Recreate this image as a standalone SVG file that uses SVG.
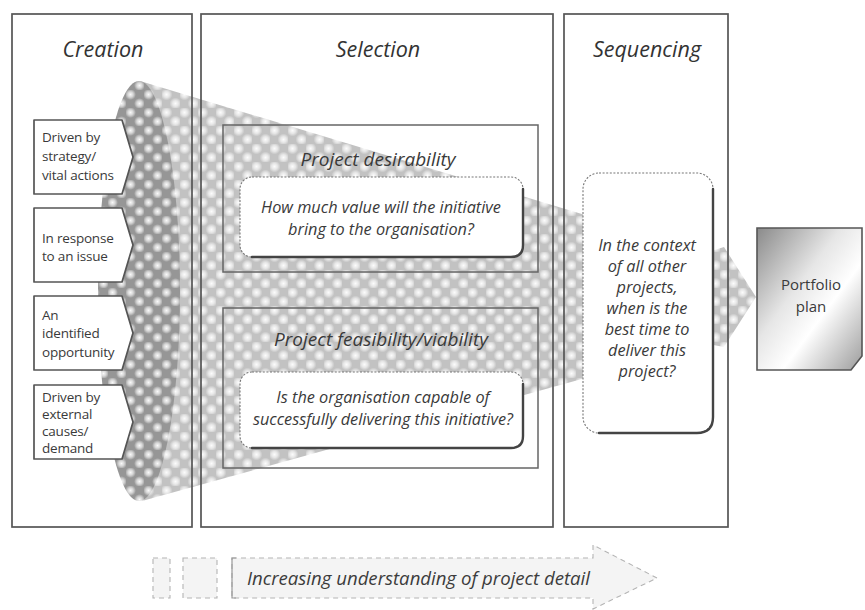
<svg xmlns="http://www.w3.org/2000/svg" width="865" height="610" viewBox="0 0 865 610">
  <defs>
    <style>
      .panel { fill: none; stroke: #555; stroke-width: 1.7; }
      .panel-bg { fill: #ffffff; stroke: none; }
      .heading { font-family: "Open Sans", "Noto Sans", sans-serif; font-style: italic; font-size: 21.5px; fill: #333; text-anchor: middle; }
      .tag { fill: #ffffff; stroke: #555; stroke-width: 1.7; stroke-linejoin: round; }
      .tag-text { font-family: "Open Sans", "Noto Sans", sans-serif; font-size: 13.5px; fill: #3a3a3a; letter-spacing: -0.2px; }
      .frame { fill: none; stroke: #666; stroke-width: 1.5; }
      .title { font-family: "Open Sans", "Noto Sans", sans-serif; font-style: italic; font-size: 19px; fill: #3a3a3a; text-anchor: middle; }
      .card { fill: #ffffff; stroke: #777; stroke-width: 1.1; stroke-dasharray: 2 1.6; }
      .card-edge { fill: none; stroke: #444; stroke-width: 2.4; stroke-linecap: round; }
      .q { font-family: "Open Sans", "Noto Sans", sans-serif; font-style: italic; font-size: 16.3px; fill: #3a3a3a; text-anchor: middle; }
      .plan-text { font-family: "Open Sans", "Noto Sans", sans-serif; font-size: 15px; fill: #3a3a3a; text-anchor: middle; }
      .faint { fill: #f4f4f4; stroke: #b4b4b4; stroke-width: 1.1; stroke-dasharray: 5 4; }
      .band-text { font-family: "Open Sans", "Noto Sans", sans-serif; font-style: italic; font-size: 18.6px; fill: #3c3c3c; }
    </style>
    <radialGradient id="dot">
      <stop offset="0" stop-color="#ffffff" stop-opacity="0.95"/>
      <stop offset="0.5" stop-color="#ffffff" stop-opacity="0.6"/>
      <stop offset="1" stop-color="#ffffff" stop-opacity="0"/>
    </radialGradient>
    <pattern id="halftone" width="18" height="18" patternUnits="userSpaceOnUse">
      <rect width="18" height="18" fill="#c2c2c2"/>
      <circle cx="4.5" cy="4.5" r="6" fill="url(#dot)"/>
      <circle cx="13.5" cy="13.5" r="6" fill="url(#dot)"/>
    </pattern>
    <pattern id="halftone-dark" width="18" height="18" patternUnits="userSpaceOnUse">
      <rect width="18" height="18" fill="#969696"/>
      <circle cx="4.5" cy="4.5" r="5.5" fill="url(#dot)"/>
      <circle cx="13.5" cy="13.5" r="5.5" fill="url(#dot)"/>
    </pattern>
    <linearGradient id="metal" x1="0" y1="0" x2="1" y2="1">
      <stop offset="0" stop-color="#8a8a8a"/>
      <stop offset="0.4" stop-color="#e6e6e6"/>
      <stop offset="0.62" stop-color="#ffffff"/>
      <stop offset="1" stop-color="#9c9c9c"/>
    </linearGradient>
  </defs>

  <!-- column backgrounds -->
  <g id="panel-backgrounds">
    <rect class="panel-bg" x="12" y="14" width="180" height="513"/>
    <rect class="panel-bg" x="201" y="14" width="352" height="513"/>
    <rect class="panel-bg" x="564" y="14" width="164" height="513"/>
  </g>

  <!-- halftone funnel running through the three stages -->
  <g id="funnel">
    <path d="M 140 81 L 708 252 L 724 247 L 756 297 L 724 347 L 708 344 L 142 501 Z" fill="url(#halftone)"/>
    <ellipse cx="139" cy="291" rx="41" ry="210" fill="url(#halftone-dark)"/>
  </g>

  <!-- column frames and headings -->
  <g id="creation">
    <rect class="panel" x="12" y="14" width="180" height="513"/>
    <text class="heading" x="103" y="57">Creation</text>
  </g>
  <g id="selection">
    <rect class="panel" x="201" y="14" width="352" height="513"/>
    <text class="heading" x="378" y="57">Selection</text>
  </g>
  <g id="sequencing">
    <rect class="panel" x="564" y="14" width="164" height="513"/>
    <text class="heading" x="647" y="57">Sequencing</text>
  </g>

  <!-- project sources -->
  <g id="source-strategy">
    <path class="tag" d="M 34 120 H 122 L 133 157 L 122 194 H 34 Z"/>
    <text class="tag-text" x="42" y="142">Driven by</text>
    <text class="tag-text" x="42" y="161">strategy/</text>
    <text class="tag-text" x="42" y="180">vital actions</text>
  </g>
  <g id="source-issue">
    <path class="tag" d="M 34 208 H 122 L 133 245 L 122 282 H 34 Z"/>
    <text class="tag-text" x="42" y="243">In response</text>
    <text class="tag-text" x="42" y="261">to an issue</text>
  </g>
  <g id="source-opportunity">
    <path class="tag" d="M 34 296 H 122 L 133 333 L 122 370 H 34 Z"/>
    <text class="tag-text" x="42" y="320">An</text>
    <text class="tag-text" x="42" y="338">identified</text>
    <text class="tag-text" x="42" y="357">opportunity</text>
  </g>
  <g id="source-external">
    <path class="tag" d="M 34 385 H 122 L 133 422 L 122 459 H 34 Z"/>
    <text class="tag-text" x="42" y="402">Driven by</text>
    <text class="tag-text" x="42" y="419">external</text>
    <text class="tag-text" x="42" y="436">causes/</text>
    <text class="tag-text" x="42" y="453">demand</text>
  </g>

  <!-- selection criteria -->
  <g id="desirability">
    <rect class="frame" x="223" y="125" width="315" height="147"/>
    <text class="title" x="378" y="166">Project desirability</text>
    <rect class="card" x="240" y="177" width="283" height="80" rx="12"/>
    <path class="card-edge" d="M 523 189 V 245 Q 523 257 511 257 H 252"/>
    <text class="q" x="381" y="213">How much value will the initiative</text>
    <text class="q" x="381" y="235">bring to the organisation?</text>
  </g>
  <g id="feasibility">
    <rect class="frame" x="223" y="308" width="315" height="160"/>
    <text class="title" x="381" y="346">Project feasibility/viability</text>
    <rect class="card" x="240" y="372" width="283" height="76" rx="12"/>
    <path class="card-edge" d="M 523 384 V 436 Q 523 448 511 448 H 252"/>
    <text class="q" x="383" y="403">Is the organisation capable of</text>
    <text class="q" x="383" y="425">successfully delivering this initiative?</text>
  </g>

  <!-- sequencing question -->
  <g id="timing">
    <rect class="card" x="583" y="173" width="130" height="260" rx="16"/>
    <path class="card-edge" d="M 713 189 V 417 Q 713 433 697 433 H 599"/>
    <text class="q" x="647" y="251">In the context</text>
    <text class="q" x="647" y="272">of all other</text>
    <text class="q" x="647" y="293">projects,</text>
    <text class="q" x="647" y="314">when is the</text>
    <text class="q" x="647" y="335">best time to</text>
    <text class="q" x="647" y="356">deliver this</text>
    <text class="q" x="647" y="377">project?</text>
  </g>

  <!-- outcome -->
  <g id="portfolio-plan">
    <path d="M 757 228 H 862 V 356 L 851 370 H 757 Z" fill="url(#metal)" stroke="#555" stroke-width="1.6"/>
    <text class="plan-text" x="811" y="290">Portfolio</text>
    <text class="plan-text" x="811" y="312">plan</text>
  </g>

  <!-- progress band along the bottom -->
  <g id="understanding">
    <rect class="faint" x="153" y="558" width="17" height="40" stroke-dasharray="none"/>
    <rect class="faint" x="183" y="558" width="34" height="40" stroke-dasharray="10 5"/>
    <path class="faint" d="M 232 558 H 593 V 545 L 657 578 L 593 609 V 598 H 232 Z"/>
    <path d="M 236 558 H 232 V 598 H 236" fill="none" stroke="#999" stroke-width="1.2"/>
    <text class="band-text" x="247" y="585">Increasing understanding of project detail</text>
  </g>
</svg>
